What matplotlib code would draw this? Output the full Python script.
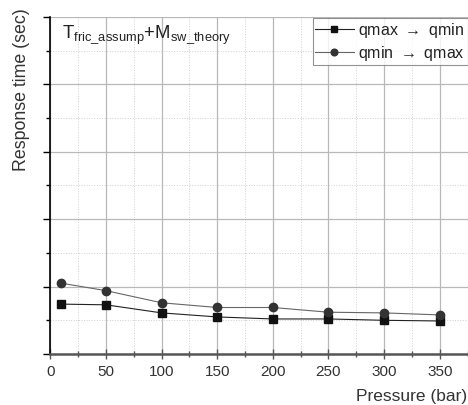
import matplotlib
matplotlib.use("Agg")
import matplotlib.pyplot as plt
from matplotlib.ticker import MultipleLocator, NullFormatter

plt.rcParams['font.family'] = ['Liberation Sans', 'DejaVu Sans']
plt.rcParams['mathtext.fontset'] = 'custom'
plt.rcParams['mathtext.rm'] = 'Liberation Sans'

pressure = [10, 50, 100, 150, 200, 250, 300, 350]
qmax_to_qmin = [0.74, 0.73, 0.61, 0.55, 0.52, 0.52, 0.50, 0.49]
qmin_to_qmax = [1.05, 0.94, 0.76, 0.69, 0.69, 0.62, 0.61, 0.58]
series_labels = [r"qmax $\rightarrow$ qmin", r"qmin $\rightarrow$ qmax"]
title_text = r"$\mathregular{T_{fric\_assump}{+}M_{sw\_theory}}$"

fig = plt.figure(figsize=(4.68, 4.06), dpi=100)
ax = fig.add_axes([0.1075, 0.1256, 0.8915, 0.8301])

ax.set_xlim(0, 375)
ax.set_ylim(0, 5)
ax.xaxis.set_major_locator(MultipleLocator(50))
ax.xaxis.set_minor_locator(MultipleLocator(25))
ax.yaxis.set_major_locator(MultipleLocator(1))
ax.yaxis.set_minor_locator(MultipleLocator(0.5))
ax.yaxis.set_major_formatter(NullFormatter())

ax.grid(True, which='major', color='#b8b8b8', lw=0.9, ls='-')
ax.grid(True, which='minor', color='#d0d0d0', lw=0.7, ls=':')
ax.set_axisbelow(True)

ax.plot(pressure, qmax_to_qmin, color='#222222', lw=0.8, marker='s',
        ms=5.2, mfc='#111111', mec='#111111', label=series_labels[0], zorder=3)
ax.plot(pressure, qmin_to_qmax, color='#666666', lw=0.8, marker='o',
        ms=6.0, mfc='#333333', mec='#333333', label=series_labels[1], zorder=3)

for s in ['top', 'right']:
    ax.spines[s].set_visible(False)
ax.spines['left'].set_color('black')
ax.spines['left'].set_linewidth(1.2)
ax.spines['bottom'].set_color('#555555')
ax.spines['bottom'].set_linewidth(1.8)

ax.tick_params(axis='x', which='major', direction='inout', length=7, width=1,
               color='#555555', labelsize=11, labelcolor='#333333', pad=4)
ax.tick_params(axis='x', which='minor', direction='inout', length=4, width=1,
               color='#555555')
ax.tick_params(axis='y', which='major', direction='out', length=5, width=1)
ax.tick_params(axis='y', which='minor', direction='out', length=3, width=1)

ax.set_xlabel("Pressure (bar)", fontsize=12.5, color='#333333', loc='right', labelpad=7)
ax.set_ylabel("Response time (sec)", fontsize=12.8, color='#333333',
              ha='center', va='center')
ax.yaxis.set_label_coords(-0.07, 0.786)

ax.text(0.027, 0.985, title_text, transform=ax.transAxes, fontsize=13.3,
        color='#222222', va='top', ha='left')

leg = ax.legend(loc='upper right', bbox_to_anchor=(1.0, 0.997),
                borderaxespad=0.0, fontsize=11.5, markerscale=0.8,
                frameon=True, fancybox=False, edgecolor='#777777',
                handlelength=2.4, handletextpad=0.3, borderpad=0.15,
                labelspacing=0.25)
leg.get_frame().set_linewidth(0.8)
for t in leg.get_texts():
    t.set_color('#222222')

fig.savefig("out.png", dpi=100)
